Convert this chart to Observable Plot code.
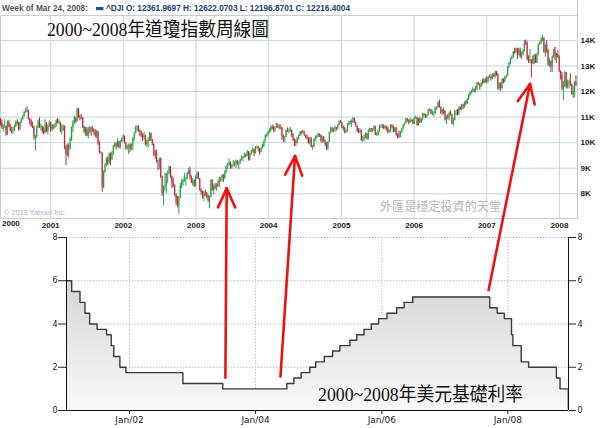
<!DOCTYPE html>
<html><head><meta charset="utf-8">
<script src="https://cdn.jsdelivr.net/npm/d3@7"></script>
<script src="https://cdn.jsdelivr.net/npm/@observablehq/plot@0.6"></script>
<style>
body{margin:0;background:#fff;}
#wrap{position:relative;width:600px;height:428px;overflow:hidden;}
#top{position:absolute;left:0;top:15px;}
#bot{position:absolute;left:0;top:226px;}
#over{position:absolute;left:0;top:0;pointer-events:none;}
</style></head><body>
<div id="wrap"><div id="top"></div><div id="bot"></div><svg id="over" width="600" height="428"></svg></div>
<script>
// ---- DJI weekly candles (weeks starting Mon 2000-04-24), open = previous week's close ----
const firstWeek = [2000, 3, 24];
const firstOpen = 10844;
const close = [
// 2000
10733,10577,10609,10627,10299,10794,10614,10449,10404,10447,10636,10813,10733,10512,10767,10908,11046,11192,11238,11220,10927,10847,10651,10596,10193,10226,10590,10817,10602,10630,10470,10373,10712,10434,10635,10787,
// 2001
10662,10525,10587,10659,10865,10781,10799,10441,10466,10644,9823,9504,9879,9792,10127,10579,10811,10951,10821,11301,11005,10990,10977,10624,10404,10502,10252,10539,10577,10416,10512,10416,10240,10423,9949,9606,9606,8236,8848,9120,9344,9205,9545,9323,9608,9867,9960,9851,10049,9812,10035,10137,
// 2002
10260,9987,9771,9841,9907,9744,9903,10145,10368,10572,10608,10427,10404,10271,10191,10257,9910,10006,10116,10353,10105,9925,9589,9503,9253,9243,9380,8684,8019,8264,8313,8745,8778,9053,8664,8427,8312,7986,7701,7528,7850,8322,8444,8517,8538,8579,8805,8896,8645,8433,8511,8303,
// 2003
8601,8785,8587,8131,8054,7864,8042,8018,7891,7741,7859,8522,8146,8278,8221,8338,8307,8583,8604,8713,8602,8850,9062,9117,9201,9011,9070,9119,9189,9285,9154,9191,9321,9348,9416,9503,9471,9644,9313,9573,9674,9721,9582,9801,9810,9768,9629,9782,9862,10042,10278,10305,
// 2004
10409,10458,10600,10568,10488,10593,10628,10619,10584,10596,10241,10186,10213,10471,10443,10452,10473,10226,10118,10013,9967,10188,10243,10410,10417,10372,10282,10214,10140,9963,10140,9816,9826,10111,10196,10260,10314,10285,10047,10192,10055,9933,9758,10027,10387,10540,10456,10522,10592,10543,10661,10828,10783,
// 2005
10603,10558,10393,10427,10716,10796,10785,10841,10941,10774,10630,10442,10404,10461,10088,10157,10193,10346,10140,10471,10542,10460,10512,10623,10297,10303,10449,10640,10651,10641,10558,10600,10559,10397,10447,10679,10641,10420,10569,10292,10287,10215,10403,10531,10686,10766,10931,10878,10779,10876,10883,10718,
// 2006
10959,10960,10667,10907,10794,10919,11115,11061,11022,11076,11279,11280,11109,11120,11137,11347,11367,11577,11380,11144,11278,11248,10891,11015,10989,11150,11091,10739,10868,11220,11240,11088,11381,11284,11465,11392,11560,11509,11679,11851,11960,12002,12090,12032,12108,12342,12280,12194,12307,12445,12344,12463,
// 2007
12398,12556,12566,12488,12654,12581,12768,12648,12115,12277,12111,12481,12354,12561,12612,12962,13121,13265,13327,13557,13507,13668,13424,13639,13361,13409,13612,13907,13851,13265,13182,13240,13079,13379,13358,13113,13443,13821,13896,14066,14093,13522,13807,13596,13043,13177,12981,13372,13625,13340,13451,13366,
// 2008
12800,12606,12099,12207,12743,12183,12348,12381,12266,11894,11951,12361.9697,12216.4004
];
const high = [
// 2000
10950,10900,10700,10900,10650,10850,10880,10720,10620,10600,10700,10850,10900,10800,10800,10950,11080,11220,11330,11400,11280,10950,10900,10800,10650,10280,10650,10900,10980,10720,10650,10600,10900,10800,10700,10850,
// 2001
10800,10700,10700,10750,10900,10950,10900,10800,10700,10700,10650,9900,9950,9950,10200,10620,10860,11050,10980,11350,11340,11080,11100,10980,10650,10600,10600,10600,10650,10600,10650,10550,10500,10480,10450,10050,9650,9606,8900,9180,9420,9450,9600,9600,9650,9900,10000,10000,10150,10050,10100,10180,
// 2002
10300,10260,10000,9900,9950,9950,9950,10200,10400,10650,10673,10650,10500,10450,10350,10400,10300,10100,10200,10400,10380,10120,9950,9700,9700,9300,9400,9400,8700,8300,8800,8800,8900,9077,9060,8700,8600,8350,8000,7900,7900,8400,8550,8600,8800,8650,8850,9000,9043,8700,8600,8550,
// 2003
8700,8850,8850,8600,8200,8100,8100,8150,8050,7950,7900,8550,8550,8350,8400,8400,8500,8650,8650,8750,8750,8900,9100,9200,9350,9250,9150,9300,9250,9320,9300,9250,9350,9500,9450,9600,9550,9700,9650,9600,9720,9800,9750,9850,9880,9850,9780,9800,9950,10080,10300,10350,
// 2004
10450,10550,10650,10700,10650,10620,10750,10750,10700,10700,10600,10300,10250,10500,10580,10550,10600,10500,10350,10150,10100,10200,10300,10450,10450,10480,10450,10300,10300,10200,10200,10200,9900,10150,10250,10300,10380,10350,10300,10250,10250,10100,10000,10050,10400,10600,10600,10560,10650,10600,10700,10850,10870,
// 2005
10800,10650,10600,10500,10750,10850,10850,10900,10990,10950,10800,10650,10550,10550,10500,10250,10300,10400,10350,10500,10560,10550,10550,10650,10650,10400,10500,10680,10700,10720,10700,10680,10650,10600,10500,10700,10720,10650,10600,10600,10350,10450,10450,10550,10700,10800,10950,10950,10900,10950,10900,10900,
// 2006
11000,11050,11000,10950,11000,10950,11150,11150,11100,11100,11300,11350,11300,11250,11200,11400,11400,11600,11670,11400,11300,11350,11250,11050,11100,11200,11250,11100,10950,11250,11280,11300,11400,11400,11500,11500,11600,11650,11720,11900,11990,12050,12170,12100,12200,12350,12360,12300,12350,12500,12500,12520,
// 2007
12580,12600,12650,12650,12700,12700,12800,12790,12700,12350,12350,12500,12500,12600,12650,12980,13150,13300,13400,13560,13700,13700,13690,13700,13700,13550,13650,14000,14020,13950,13400,13650,13250,13400,13450,13450,13500,13850,13950,14100,14198,14100,13850,14000,13650,13300,13200,13400,13650,13750,13500,13600,
// 2008
13400,12800,12750,12400,12800,12750,12450,12450,12700,12300,12200,12400,12622.0703
];
const low = [
// 2000
10650,10520,10420,10550,10250,10290,10580,10420,10330,10340,10440,10600,10690,10450,10480,10740,10880,11010,11150,11180,10900,10700,10600,10550,10100,9654,10150,10550,10560,10450,10350,10300,10350,10400,10300,10600,
// 2001
10400,10450,10500,10550,10600,10730,10700,10400,10300,10450,9720,9106,9450,9390,9700,10050,10400,10700,10750,10800,10950,10850,10900,10550,10350,10250,10230,10150,10350,10250,10400,10300,10200,10150,9900,9550,9550,8062,8200,8800,9050,9100,9150,9100,9300,9500,9800,9700,9800,9750,9750,10000,
// 2002
10050,9950,9700,9700,9530,9620,9700,9680,10050,10350,10450,10400,10250,10200,10050,10100,9880,9800,9800,10050,10050,9880,9450,9350,9200,8900,8950,8600,7900,7532,8100,8000,8400,8750,8600,8200,8250,7900,7550,7450,7197,7800,8200,8300,8450,8300,8550,8750,8550,8400,8300,8250,
// 2003
8250,8550,8550,8100,7950,7800,7700,7900,7800,7650,7416,7850,8100,7950,8150,8100,8250,8250,8450,8450,8450,8550,8800,8950,9100,8950,8950,9050,9050,8980,9100,8950,9150,9280,9250,9400,9400,9450,9280,9280,9500,9600,9450,9550,9750,9650,9500,9600,9750,9800,10000,10200,
// 2004
10250,10350,10400,10500,10400,10400,10550,10550,10500,10500,10100,10000,10000,10200,10400,10350,10400,10200,10050,9850,9850,9950,10100,10240,10300,10350,10250,10150,10100,9950,9900,9800,9700,9800,10050,10150,10200,10200,10000,9980,10000,9850,9700,9700,10000,10350,10400,10400,10400,10450,10500,10650,10750,
// 2005
10550,10450,10350,10350,10400,10650,10700,10600,10750,10750,10600,10400,10350,10350,10050,10000,10050,10150,10100,10100,10400,10400,10400,10450,10280,10250,10250,10400,10550,10550,10500,10500,10450,10350,10350,10400,10550,10380,10400,10250,10150,10150,10200,10350,10500,10650,10750,10800,10700,10750,10800,10700,
// 2006
10700,10900,10650,10650,10750,10750,10850,11000,10950,10950,11050,11200,11100,11050,11000,11100,11250,11350,11350,11100,11050,11100,10850,10700,10900,10850,11050,10700,10650,10850,11050,11050,11080,11250,11250,11300,11350,11450,11500,11650,11800,11900,11950,11950,11950,12050,12250,12050,12150,12250,12300,12330,
// 2007
12300,12350,12500,12400,12450,12550,12500,12600,12050,12050,12000,12100,12300,12350,12500,12600,12900,13050,13250,13300,13450,13500,13250,13400,13300,13250,13400,13550,13800,13200,13100,13100,12518,13050,13050,13100,13100,13400,13800,13850,13950,13500,13350,13500,13000,12950,12750,12750,13300,13200,13100,13300,
// 2008
12750,12450,12050,11634,12150,12100,12100,12100,12200,11850,11731,11750,12196.8701
];
const yearTicks = [2001, 2002, 2003, 2004, 2005, 2006, 2007, 2008];
const priceTicks = [8000, 9000, 10000, 11000, 12000, 13000, 14000];

// ---- US Fed funds target rate (change dates) ----
const rateDates = ["2001-01-01","2001-01-31","2001-03-20","2001-04-18","2001-05-15","2001-06-27","2001-08-21","2001-09-17","2001-10-02","2001-11-06","2001-12-11","2002-11-06","2003-06-25","2004-06-30","2004-08-10","2004-09-21","2004-11-10","2004-12-14","2005-02-02","2005-03-22","2005-05-03","2005-06-30","2005-08-09","2005-09-20","2005-11-01","2005-12-13","2006-01-31","2006-03-28","2006-05-10","2006-06-29","2007-09-18","2007-10-31","2007-12-11","2008-01-22","2008-01-30","2008-03-18","2008-04-30","2008-10-08","2008-10-29","2008-12-16"];
const rateValues = [6,5.5,5,4.5,4,3.75,3.5,3,2.5,2,1.75,1.25,1,1.25,1.5,1.75,2,2.25,2.5,2.75,3,3.25,3.5,3.75,4,4.25,4.5,4.75,5,5.25,4.75,4.5,4.25,3.5,3,2.25,2,1.5,1,0.1];
const rateTicks = [0, 2, 4, 6, 8];
const rateYearTicks = [2002, 2004, 2006, 2008];

// ---- red hand-drawn arrows: tail on rate chart (date, rate) -> head on DJI chart (date, index) ----
const arrowTail = [["2003-07-13", 1.49], ["2004-05-27", 1.55], ["2007-09-14", 5.54]];
const arrowHead = [["2003-06-07", 8196], ["2004-05-15", 9460], ["2007-08-09", 12278]];

// ---- texts ----
const topTitle = "2000~2008年道瓊指數周線圖";
const botTitle = "2000~2008年美元基礎利率";
const watermark = "外匯是穩定投資的天堂";
const copyright = "© 2013 Yahoo! Inc.";
const headerLead = "Week of Mar 24, 2008:";
const symbol = "^DJI";

const utc = s => new Date(s + "T00:00:00Z");

const weeks = close.map((c, i) => {
  const o = i ? close[i - 1] : firstOpen;
  return {date: new Date(Date.UTC(firstWeek[0], firstWeek[1], firstWeek[2] + 7 * i)), open: o, close: c, high: high[i], low: low[i], up: c >= o};
});

const xDomTop = [new Date(Date.UTC(2000, 3, 24)), new Date(Date.UTC(2008, 2, 31, 20))];
const yearDates = yearTicks.map(y => new Date(Date.UTC(y, 0, 1)));

const topSvg = Plot.plot({
  width: 600, height: 221, marginTop: 0, marginRight: 23, marginBottom: 18, marginLeft: 0,
  x: {type: "utc", domain: xDomTop, label: null},
  y: {domain: [7033, 14978], label: null},
  color: {type: "identity"},
  style: {fontFamily: "'Liberation Sans', Arial, sans-serif", fontSize: "8px", fontWeight: "bold", color: "#222", background: "transparent", overflow: "visible"},
  marks: [
    Plot.gridX(yearDates, {stroke: "#cad4df", strokeOpacity: 1}),
    Plot.gridY(priceTicks, {stroke: "#cad4df", strokeOpacity: 1}),
    Plot.frame({stroke: "#c4ceda"}),
    Plot.ruleX(weeks, {x: "date", y1: "open", y2: "close", stroke: d => d.up ? "#80d48a" : "#f08c9c", strokeWidth: 1.6, clip: true}),
    Plot.ruleX(weeks, {x: "date", y1: "low", y2: "high", stroke: d => d.up ? "#139a33" : "#b3112f", strokeWidth: 0.9, clip: true}),
    Plot.axisX(yearDates, {tickSize: 0, tickPadding: 4, label: null, tickFormat: d => String(d.getUTCFullYear())}),
    Plot.text([xDomTop[0]], {x: d => d, frameAnchor: "bottom", dy: 7.5, dx: 1.5, textAnchor: "start", text: d => String(d.getUTCFullYear()), fill: "#222"}),
    Plot.axisY(priceTicks, {anchor: "right", tickSize: 0, tickPadding: 3, label: null, tickFormat: d => d / 1000 + "K"})
  ]
});
document.getElementById("top").append(topSvg);

const rates = rateDates.map((d, i) => ({date: utc(d), rate: rateValues[i]}));
const xDomBot = [new Date(Date.UTC(2001, 0, 1)), new Date(Date.UTC(2008, 11, 17))];
const janDates = rateYearTicks.map(y => new Date(Date.UTC(y, 0, 1)));

const gradientDefs = () => {
  const defs = d3.create("svg:defs");
  const lg = defs.append("linearGradient").attr("id", "rateGrad").attr("x1", 0).attr("x2", 0).attr("y1", 0).attr("y2", 1);
  lg.append("stop").attr("offset", "0%").attr("stop-color", "#d6d6d6");
  lg.append("stop").attr("offset", "100%").attr("stop-color", "#f9f9f9");
  return defs.node();
};

const botSvg = Plot.plot({
  width: 600, height: 202, marginTop: 11, marginRight: 32, marginBottom: 18, marginLeft: 66,
  x: {type: "utc", domain: xDomBot, label: null},
  y: {domain: [0, 8], label: null},
  style: {fontFamily: "'DejaVu Sans', Verdana, sans-serif", fontSize: "9px", color: "#222", background: "transparent", overflow: "visible"},
  marks: [
    gradientDefs,
    Plot.gridY(rateTicks.slice(1), {stroke: "#bdbdbd", strokeOpacity: 1, strokeDasharray: "1.5,1.5"}),
    Plot.gridX(janDates, {stroke: "#bdbdbd", strokeOpacity: 1, strokeDasharray: "1.5,1.5"}),
    Plot.areaY(rates, {x: "date", y: "rate", curve: "step-after", fill: "url(#rateGrad)"}),
    Plot.lineY(rates, {x: "date", y: "rate", curve: "step-after", stroke: "#3a3a3a", strokeWidth: 1.4}),
    Plot.ruleY([0], {stroke: "#111"}),
    Plot.ruleX(xDomBot, {stroke: "#111"}),
    Plot.axisY(rateTicks, {anchor: "left", tickSize: 8, tickPadding: 1, fontSize: 8, label: null}),
    Plot.axisY(rateTicks, {anchor: "right", tickSize: 7, tickPadding: 2, fontSize: 8, label: null}),
    Plot.axisX(janDates, {tickSize: 4, tickPadding: 2, label: null, tickFormat: d => "Jan/" + String(d.getUTCFullYear()).slice(2)})
  ]
});
document.getElementById("bot").append(botSvg);

// ---- overlay: header, titles, watermark, arrows ----
const over = d3.select("#over");
const last = weeks[weeks.length - 1];
over.append("line").attr("x1", 0).attr("x2", 578).attr("y1", 15.5).attr("y2", 15.5).attr("stroke", "#c4ceda");
over.append("line").attr("x1", 577.5).attr("x2", 577.5).attr("y1", 0).attr("y2", 15.5).attr("stroke", "#c4ceda");
over.append("text").attr("x", 2).attr("y", 11).attr("font-family", "'Liberation Sans', Arial, sans-serif").attr("font-size", 8.5).attr("font-weight", "bold")
  .attr("fill", "#555").attr("textLength", 86).attr("lengthAdjust", "spacingAndGlyphs").text(headerLead);
over.append("rect").attr("x", 96).attr("y", 7).attr("width", 7.5).attr("height", 3.2).attr("fill", "#1f4f9f");
over.append("text").attr("x", 106).attr("y", 11).attr("font-family", "'Liberation Sans', Arial, sans-serif").attr("font-size", 8.5).attr("font-weight", "bold")
  .attr("fill", "#1b3c6e").attr("textLength", 244).attr("lengthAdjust", "spacingAndGlyphs")
  .text(`${symbol} O: ${last.open.toFixed(4)} H: ${last.high.toFixed(4)} L: ${last.low.toFixed(4)} C: ${last.close.toFixed(4)}`);

const serifCJK = "'Liberation Serif', 'Noto Sans CJK TC', serif";
over.append("text").attr("x", 47).attr("y", 36).attr("font-family", serifCJK).attr("font-size", 19).attr("fill", "#111")
  .attr("textLength", 222).attr("lengthAdjust", "spacingAndGlyphs").text(topTitle);
over.append("text").attr("x", 318).attr("y", 401).attr("font-family", serifCJK).attr("font-size", 19).attr("fill", "#111")
  .attr("textLength", 205).attr("lengthAdjust", "spacingAndGlyphs").text(botTitle);
over.append("text").attr("x", 380).attr("y", 210.5).attr("font-family", "'Noto Sans CJK TC', sans-serif").attr("font-size", 12).attr("fill", "#b8b8b8")
  .attr("textLength", 121).attr("lengthAdjust", "spacingAndGlyphs").text(watermark);
over.append("text").attr("x", 4).attr("y", 215).attr("font-family", "'Liberation Sans', Arial, sans-serif").attr("font-size", 8).attr("fill", "#a7b1c2")
  .attr("textLength", 62).attr("lengthAdjust", "spacingAndGlyphs").text(copyright);

const tX = topSvg.scale("x"), tY = topSvg.scale("y"), bX = botSvg.scale("x"), bY = botSvg.scale("y");
const topOff = 15, botOff = 226;
arrowTail.forEach((t, i) => {
  const h = arrowHead[i];
  const x0 = bX.apply(utc(t[0])), y0 = bY.apply(t[1]) + botOff;
  const x1 = tX.apply(utc(h[0])), y1 = tY.apply(h[1]) + topOff;
  const len = Math.hypot(x0 - x1, y0 - y1), ux = (x0 - x1) / len, uy = (y0 - y1) / len;
  const g = over.append("g").attr("stroke", "#ee1111").attr("stroke-width", 2.6).attr("stroke-linecap", "round").attr("fill", "none");
  g.append("line").attr("x1", x0).attr("y1", y0).attr("x2", x1).attr("y2", y1);
  for (const a of [-0.42, 0.42]) {
    const c = Math.cos(a), s = Math.sin(a);
    g.append("line").attr("x1", x1).attr("y1", y1)
      .attr("x2", x1 + 21 * (ux * c - uy * s)).attr("y2", y1 + 21 * (ux * s + uy * c));
  }
});
</script>
</body></html>
